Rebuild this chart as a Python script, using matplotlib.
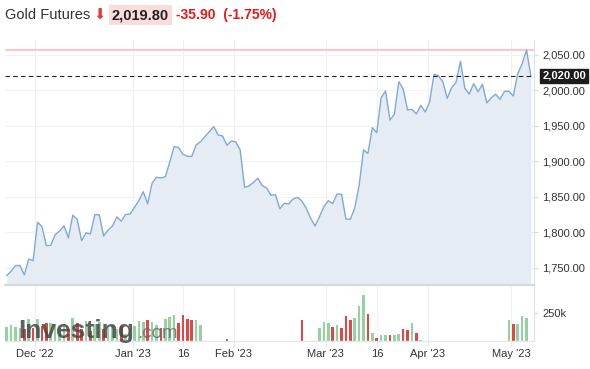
import matplotlib
matplotlib.use('Agg')
import matplotlib.pyplot as plt
import numpy as np

# ---------------- data ----------------
prices = [1739, 1745, 1753, 1753, 1740, 1762, 1760, 1814, 1808, 1781,
          1781.5, 1796.5, 1801.7, 1809, 1792, 1824, 1818, 1788, 1799, 1797.5,
          1824.6, 1824.6, 1794.6, 1803, 1808.7, 1821.4, 1815.4, 1825, 1825.5, 1835,
          1844.4, 1857, 1840, 1869, 1877.3, 1876.4, 1878, 1898.5, 1920.4, 1919.5,
          1909.7, 1907, 1906.6, 1922.8, 1927.5, 1934.5, 1941.6, 1948.6, 1936.9, 1935.5,
          1922.4, 1928.5, 1927, 1915.8, 1863.2, 1865, 1870, 1876, 1865.5, 1862.3,
          1852, 1852.8, 1833, 1840.7, 1839.7, 1846.7, 1849,
          1844, 1833.7, 1819.6, 1808.7, 1821.8, 1835.9, 1844.4, 1840.2, 1853.8, 1853.4,
          1818.6, 1818.2, 1833.7, 1866, 1915.8, 1911, 1947.2, 1940.1, 1989.4, 1998.9,
          1958, 1966, 2012, 2001.7, 1972.1, 1973, 1966.5, 1978.7, 1969.3, 1983,
          2022.4, 2020.4, 2012, 1988.6, 2003.5, 2011, 2040.7, 2002.7, 1994.6, 2009.2,
          1997.9, 2008.3, 1982, 1989.4, 1994.2, 1987.2, 1998.4, 1998.4, 1991.8, 2023.2,
          2036.9, 2056.6, 2019.8]

volumes_k = [131, 146, 131, 119, 112, 198, 122, 198, 137, 161,
             167, 143, 122, 152, 106, 210, 167, 106, 182, 91,
             158, 173, 106, 143, 137, 112, 137, 61, 122, 137,
             182, 173, 189, 173, 143, 116, 198, 222, 234, 167,
             234, 198, 189, 189, 146, 0, 0, 0, 0, 0,
             20, 0, 0, 0, 0, 0, 0, 0, 0, 0,
             0, 0, 0, 0, 0, 0, 0,
             189, 0, 0, 0, 119, 173, 164, 128, 146, 119,
             225, 189, 207, 319, 417, 244, 76, 30, 57, 57,
             57, 52, 67, 109, 98, 164, 76, 12, 0, 0,
             0, 0, 0, 0, 0, 0, 0, 0, 0, 0,
             0, 0, 0, 0, 0, 0, 0, 189, 155, 155,
             225, 207, 0, 0]

x_tick_pos = [6.42, 28.65, 40.0, 51.57, 72.44, 84.16, 95.58, 114.56]
x_tick_labels = ["Dec '22", "Jan '23", "16", "Feb '23", "Mar '23", "16", "Apr '23", "May '23"]
y_ticks = [1750, 1800, 1850, 1900, 1950, 2000, 2050]
vol_ticks = [250000]
vol_tick_labels = ["250k"]

title = "Gold Futures"
last_price = 2019.80
change = -35.90
change_pct = -1.75
ref_price = 2020.00

# ---------------- figure ----------------
W, H = 590, 369
plt.rcParams['font.family'] = ['Liberation Sans', 'DejaVu Sans']
fig = plt.figure(figsize=(W / 100, H / 100), dpi=100)
fig.patch.set_facecolor('white')


def rect(l, t, r, b):
    return [l / W, 1 - b / H, (r - l) / W, (b - t) / H]


ax = fig.add_axes(rect(5, 40, 534, 285))
axv = fig.add_axes(rect(5, 287, 534, 341), sharex=ax)

x = np.arange(len(prices))
p = np.array(prices, dtype=float)
vols = np.array(volumes_k, dtype=float)[:len(p)] * 1000

ylo, yhi = 1725.6, 2070.7
ax.fill_between(x, p, ylo - 50, color='#e5ecf4', zorder=1, lw=0)
ax.plot(x, p, color='#7ea9d8', lw=1.0, zorder=3)
ax.axhline(p.max(), color='#f9caca', lw=1.6, zorder=2)
ax.axhline(ref_price, color='#222222', lw=0.8, ls=(0, (4, 3)), zorder=4)

ax.set_xlim(-0.39, 119.7)
ax.set_ylim(ylo, yhi)
ax.set_yticks(y_ticks)
ax.set_yticklabels([f"{v:,.2f}" for v in y_ticks])
ax.yaxis.tick_right()
ax.tick_params(axis='y', length=3, width=0.8, color='#d8dde3', pad=3,
               labelsize=8, labelcolor='#333333')
ax.set_xticks(x_tick_pos)
ax.tick_params(axis='x', length=0, labelbottom=False)
ax.grid(True, color='#f1f1f1', lw=0.8, zorder=0)
ax.set_axisbelow(True)
for s in ['top', 'left']:
    ax.spines[s].set_visible(False)
ax.spines['right'].set_color('#dde2e8')
ax.spines['right'].set_linewidth(0.8)
ax.spines['bottom'].set_color('#d3dae2')
ax.spines['bottom'].set_linewidth(1.6)

# current price label box
ax.annotate(f"{ref_price:,.2f}", xy=(1.0, ref_price), xycoords=('axes fraction', 'data'),
            xytext=(6, 0), textcoords='offset points', ha='left', va='center',
            fontsize=8, fontweight='bold', color='white',
            bbox=dict(boxstyle='square,pad=0.18', fc='#1c1c1c', ec='#1c1c1c'),
            annotation_clip=False)

# volume
colors = ['#94d2a0'] + ['#e04848' if p[i] < p[i - 1] else '#94d2a0' for i in range(1, len(p))]
axv.bar(x, vols, width=0.6, color=colors, zorder=2, lw=0)
axv.set_ylim(0, 490000)
axv.set_yticks(vol_ticks)
axv.set_yticklabels(vol_tick_labels)
axv.yaxis.tick_right()
axv.tick_params(axis='y', length=3, width=0.8, color='#d8dde3', pad=3,
                labelsize=8, labelcolor='#333333')
axv.set_xticks(x_tick_pos)
axv.set_xticklabels(x_tick_labels)
axv.tick_params(axis='x', length=4, width=0.8, color='#e6e6e6', pad=2,
                labelsize=8, labelcolor='#333333')
axv.grid(True, axis='x', color='#f1f1f1', lw=0.8, zorder=0)
axv.set_axisbelow(True)
for s in ['top', 'left']:
    axv.spines[s].set_visible(False)
axv.spines['right'].set_color('#dde2e8')
axv.spines['right'].set_linewidth(0.8)
axv.spines['bottom'].set_color('#e3e6ea')
axv.spines['bottom'].set_linewidth(1.0)

# watermark
fig.text(18 / W, 1 - 338 / H, "Investing", fontsize=19, fontweight='bold',
         color='#474747', alpha=0.85, va='baseline', ha='left', zorder=10)
fig.text(137 / W, 1 - 338 / H, ".com", fontsize=13.5, color='#6a6a6a',
         alpha=0.85, va='baseline', ha='left', zorder=10)

# header
yc = 1 - 15 / H
fig.text(5 / W, yc, title, fontsize=10.5, color='#333333', va='center', ha='left')
fig.text(100 / W, yc, "\u2B07", fontsize=10.5, color='#e53935', va='center', ha='center',
         family=['DejaVu Sans'])
fig.text(112 / W, yc, f"{last_price:,.2f}", fontsize=10.5, fontweight='bold', color='#222222',
         va='center', ha='left',
         bbox=dict(boxstyle='square,pad=0.2', fc='#fbdcdc', ec='none'))
fig.text(176 / W, yc, f"{change:.2f}  ({change_pct:.2f}%)", fontsize=10, fontweight='bold',
         color='#e61919', va='center', ha='left')

fig.savefig('out.png', dpi=100)
